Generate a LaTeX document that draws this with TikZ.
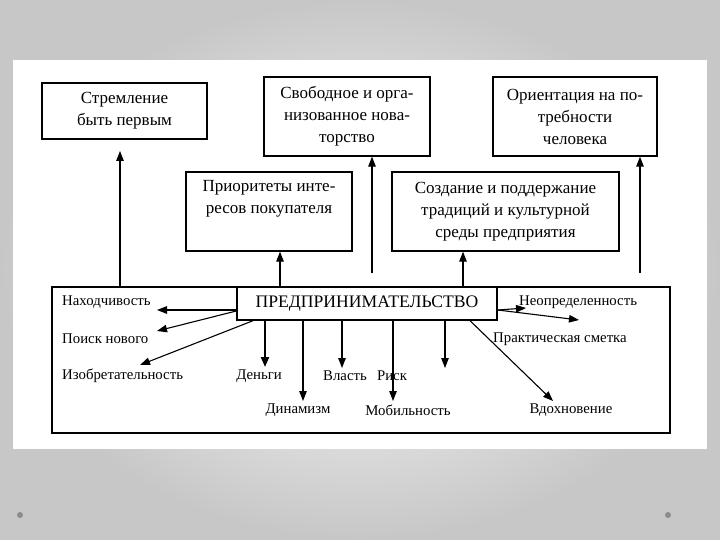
\documentclass[tikz,border=0pt]{standalone}
\usepackage{fontspec}
\setmainfont{Liberation Serif}
\usetikzlibrary{arrows.meta}
\begin{document}
\begin{tikzpicture}[x=1pt,y=-1pt]
\tikzset{
  box/.style={draw, line width=1.3pt, inner sep=0pt, align=center, font=\fontsize{17}{22}\selectfont},
  lbl/.style={inner sep=0pt, font=\fontsize{14.8}{16}\selectfont},
  arr/.style={line width=1.1pt, -{Triangle[length=10pt,width=7.5pt]}},
  tarr/.style={line width=2pt, -{Triangle[length=10pt,width=8pt]}}
}
\useasboundingbox (0,0) rectangle (720,540);
\shade[inner color=white, outer color=black!22] (0,0) rectangle (720,540);
\fill[white] (13,60) rectangle (707,449);
\fill[black!45] (20,515) circle (3);
\fill[black!45] (668,515) circle (3);

% top boxes
\node[box, minimum width=165, minimum height=56] (strem) at (124.5,111) {Стремление\\быть первым};
\node[box, minimum width=166, minimum height=79] (svob) at (347,116.5) {Свободное и орга-\\низованное нова-\\торство};
\node[box, minimum width=164, minimum height=79] (orient) at (575,116.5) {Ориентация на по-\\требности\\человека};
\node[box, minimum width=166, minimum height=79] (prior) at (269,211.5) {Приоритеты инте-\\ресов покупателя\\ \strut};
\node[box, minimum width=227, minimum height=79] (sozd) at (505.5,211.5) {Создание и поддержание\\традиций и культурной\\среды предприятия};

% big frame and main node
\node[draw, line width=1.4pt, minimum width=618, minimum height=146, inner sep=0pt] (big) at (361,360) {};
\node[draw, line width=1.4pt, fill=white, minimum width=260, minimum height=33, inner sep=0pt,
      font=\fontsize{17.6}{19}\selectfont] (main) at (367,303.5) {ПРЕДПРИНИМАТЕЛЬСТВО};

% upward arrows
\coordinate (u1) at (120,151);
\coordinate (u2s) at (372,273);
\coordinate (u5s) at (640,273);
\draw[arr] (big.north -| u1) -- (u1);
\draw[arr] (u2s) -- (u2s |- svob.south);
\draw[arr] (main.north -| 280,0) -- (prior.south -| 280,0);
\draw[arr] (main.north -| 463,0) -- (sozd.south -| 463,0);
\draw[arr] (u5s) -- (u5s |- orient.south);

% labels
\node[lbl, anchor=west] (nah) at (62,302) {Находчивость};
\node[lbl, anchor=west] (poisk) at (62,339) {Поиск нового};
\node[lbl, anchor=west] (izob) at (62,376) {Изобретательность};
\node[lbl] (den) at (259,376) {Деньги};
\node[lbl] (din) at (298,410) {Динамизм};
\node[lbl] (vlast) at (345,376) {Власть};
\node[lbl] (risk) at (392,376) {Риск};
\node[lbl] (mob) at (408,410) {Мобильность};
\node[lbl, anchor=west] (neopr) at (519,302) {Неопределенность};
\node[lbl, anchor=west] (prakt) at (493,339) {Практическая сметка};
\node[lbl] (vdoh) at (571,410) {Вдохновение};

% arrows from main
\coordinate (e1) at (157,310);
\coordinate (e2) at (157,331);
\coordinate (e3) at (140,365);
\coordinate (d1) at (265,367);
\coordinate (d2) at (303,401);
\coordinate (d3) at (342,368);
\coordinate (d4) at (393,401);
\coordinate (d5) at (445,368);
\coordinate (r1) at (526,308);
\coordinate (r2) at (579,320);
\coordinate (r3) at (553,401);
\draw[arr] ([yshift=-6.5pt]main.west) -- (e1);
\draw[arr] ([yshift=-7.5pt]main.west) -- (e2);
\draw[arr] (main.south -| 253,0) -- (e3);
\draw[tarr] (main.south -| d1) -- (d1);
\draw[arr] (main.south -| d2) -- (d2);
\draw[arr] (main.south -| d3) -- (d3);
\draw[arr] (main.south -| d4) -- (d4);
\draw[arr] (main.south -| d5) -- (d5);
\draw[arr] ([yshift=-6.5pt]main.east) -- (r1);
\draw[arr] ([yshift=-6.5pt]main.east) -- (r2);
\draw[arr] (main.south -| 470,0) -- (r3);
\end{tikzpicture}
\end{document}
